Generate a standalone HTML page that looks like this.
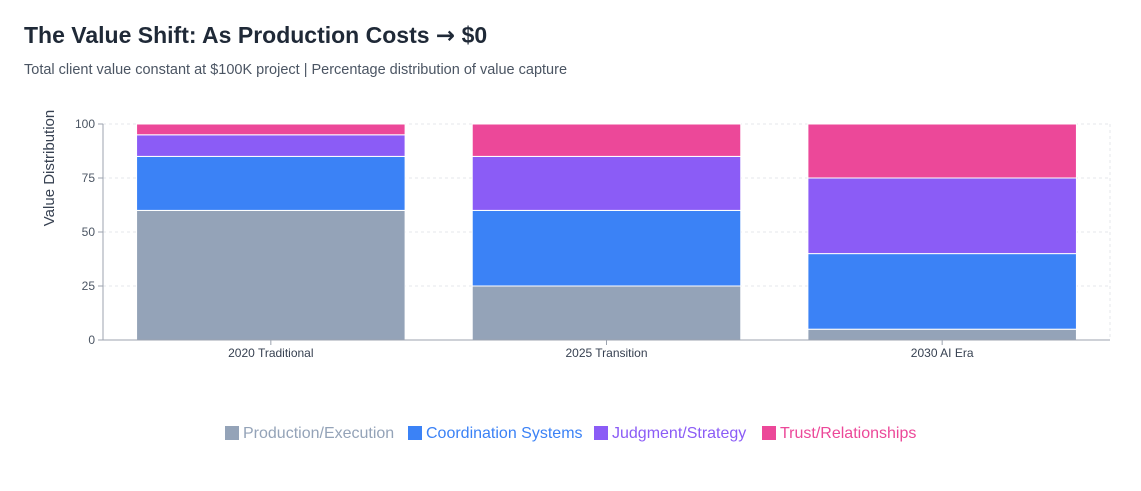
<!DOCTYPE html>
<html><head><meta charset="utf-8"><style>
body{margin:0;background:#fff;font-family:"Liberation Sans",sans-serif;}
#wrap{position:relative;width:1141px;height:491px;overflow:hidden;}
h1{position:absolute;left:24px;top:22px;margin:0;font-size:23px;font-weight:bold;color:#1f2937;white-space:nowrap;}
h1 span{font-family:"DejaVu Sans",sans-serif;}
.sub{position:absolute;left:24px;top:62px;font-size:14.5px;color:#4b5563;white-space:nowrap;}
</style></head><body>
<div id="wrap">
<h1>The Value Shift: As Production Costs <span>→</span> $0</h1>
<div class="sub">Total client value constant at $100K project | Percentage distribution of value capture</div>
<svg id="chart" width="1141" height="491" style="position:absolute;left:0;top:0"></svg>
</div>
<script>
const categories=["2020 Traditional","2025 Transition","2030 AI Era"];
const production=[60,25,5];
const coordination=[25,35,35];
const judgment=[10,25,35];
const trust=[5,15,25];
const seriesNames=["Production/Execution","Coordination Systems","Judgment/Strategy","Trust/Relationships"];
const yTicks=[0,25,50,75,100];
const series=[production,coordination,judgment,trust];
const colors=["#94a3b8","#3b82f6","#8b5cf6","#ec4899"];
const NS="http://www.w3.org/2000/svg";
const svg=document.getElementById('chart');
const L=103,R=1110,T=124,B=340;
const y=v=>B-(v/100)*(B-T);
const band=(R-L)/categories.length;
const x=i=>L+band*i;
function mk(t,a,p){const e=document.createElementNS(NS,t);for(const k in a)e.setAttribute(k,a[k]);(p||svg).appendChild(e);return e;}
yTicks.forEach(v=>{
  if(v>0){const g=mk('line',{x1:L,x2:R,y1:y(v),y2:y(v),stroke:'#e5e7eb','stroke-dasharray':'3 3'});
  
  }
  mk('line',{x1:L-5,x2:L,y1:y(v),y2:y(v),stroke:'#9ca3af'});
  const t=mk('text',{x:L-8,y:y(v)+4,'text-anchor':'end','font-size':'12',fill:'#4b5563'});
  t.textContent=v;
  
  
});
mk('line',{x1:R,x2:R,y1:T,y2:B,stroke:'#e5e7eb','stroke-dasharray':'3 3'});
categories.forEach((c,i)=>{
  let acc=0;
  const bx=x(i)+band*0.1,bw=band*0.8;
  series.forEach((s,k)=>{
    const v=s[i];
    const r=mk('rect',{x:bx,y:y(acc+v),width:bw,height:y(acc)-y(acc+v),fill:colors[k],stroke:'#fff','stroke-width':'1'});
    
    
    acc+=v;
  });
  const cx=x(i)+band/2;
  mk('line',{x1:cx,x2:cx,y1:B,y2:B+5,stroke:'#9ca3af'});
  const t=mk('text',{x:cx,y:B+17,'text-anchor':'middle','font-size':'12',fill:'#374151'});
  t.textContent=c;
  
  
});
const ax=mk('line',{x1:L,x2:L,y1:T,y2:B,stroke:'#9ca3af'});


const xa=mk('line',{x1:L,x2:R,y1:B,y2:B,stroke:'#9ca3af'});


const yt=mk('text',{x:0,y:0,transform:'translate(54,168) rotate(-90)','text-anchor':'middle','font-size':'15',fill:'#374151'});
yt.textContent='Value Distribution';


const legX=[225,408,594,762];
seriesNames.forEach((n,k)=>{
  const r=mk('rect',{x:legX[k],y:426,width:14,height:14,fill:colors[k]});
  
  
  const t=mk('text',{x:legX[k]+18,y:438,'font-size':'16',fill:colors[k]});
  t.textContent=n;
  
  
});
</script>
</body></html>
